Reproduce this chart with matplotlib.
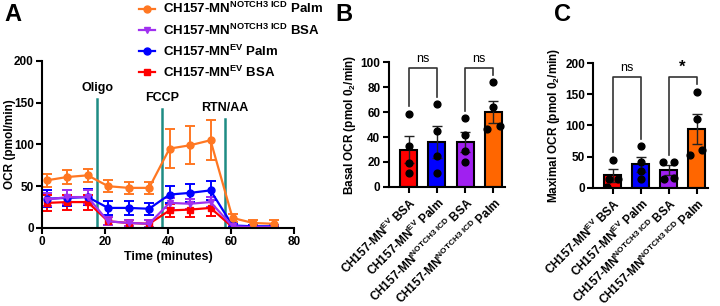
import numpy as np
import matplotlib
matplotlib.use("Agg")
import matplotlib.pyplot as plt
from matplotlib.lines import Line2D

plt.rcParams['font.family'] = ['Liberation Sans', 'DejaVu Sans']
plt.rcParams['font.weight'] = 'bold'
plt.rcParams['mathtext.fontset'] = 'custom'
plt.rcParams['mathtext.rm'] = 'Liberation Sans'
plt.rcParams['mathtext.it'] = 'Liberation Sans:bold'
plt.rcParams['mathtext.bf'] = 'Liberation Sans:bold'
plt.rcParams['axes.linewidth'] = 1.5
plt.rcParams['xtick.major.width'] = 1.5
plt.rcParams['ytick.major.width'] = 1.5

# ---- data: panel A (Seahorse trace) ----
time = [1.5, 8, 14.5, 21, 27.5, 34, 40.5, 47, 53.5, 60.5, 67, 73.5]
palm_notch = [57, 61, 63, 50, 48, 48, 95, 99, 105, 12, 6, 5]
palm_notch_err = [8, 8, 8, 7, 7, 7, 23, 23, 24, 5, 4, 4]
bsa_notch = [34, 37, 37, 8, 6, 5, 30, 29, 31, 2, 1, 1]
bsa_notch_err = [8, 8, 8, 5, 4, 4, 6, 6, 6, 2, 1, 1]
palm_ev = [35, 36, 37, 24, 24, 23, 40, 42, 45, 3, 2, 2]
palm_ev_err = [10, 10, 10, 8, 8, 7, 10, 11, 11, 2, 2, 2]
bsa_ev = [30, 31, 31, 8, 6, 5, 21, 22, 24, 1, 1, 1]
bsa_ev_err = [10, 9, 9, 5, 4, 4, 8, 9, 10, 1, 1, 1]

injections = ['Oligo', 'FCCP', 'RTN/AA']
inj_time = [17.5, 38, 58]
inj_top = [154, 142, 130]

legend_labels = [r'CH157-MN$^{\mathbf{NOTCH3\ ICD}}$ Palm', r'CH157-MN$^{\mathbf{NOTCH3\ ICD}}$ BSA',
                 r'CH157-MN$^{\mathbf{EV}}$ Palm', r'CH157-MN$^{\mathbf{EV}}$ BSA']

# ---- data: panels B and C ----
groups = [r'CH157-MN$^{\mathrm{EV}}$ BSA', r'CH157-MN$^{\mathrm{EV}}$ Palm',
          r'CH157-MN$^{\mathrm{NOTCH3\ ICD}}$ BSA', r'CH157-MN$^{\mathrm{NOTCH3\ ICD}}$ Palm']
basal_mean = [30, 36, 36, 60]
basal_sem = [10.5, 12.5, 8, 9]
basal_pts = [[58.5, 32.5, 19, 11.5], [66.5, 44.5, 24.5, 11.5], [55.5, 42, 29, 20], [84, 64, 46.5, 49]]
basal_offs = [[0, 0, 0, 0], [0, 0, 0, 0], [0, 0, 0, 0], [0, 0, -0.22, 0.22]]
maximal_mean = [20, 38, 28.5, 94]
maximal_sem = [10, 12, 8, 24]
maximal_pts = [[45, 14, 14, 2], [67, 42, 27, 15], [42, 42, 15, 16], [154, 110, 53, 60]]
maximal_offs = [[0, -0.15, 0.2, -0.22], [0, 0, 0, 0], [-0.2, 0.2, -0.18, 0.2], [0, 0, -0.22, 0.2]]

bar_colors = ['#FF0000', '#0000FF', '#A020F0', '#FF6600']

fig = plt.figure(figsize=(7.2, 3.06), dpi=100)

# ---- panel A ----
axA = fig.add_axes([0.0583, 0.255, 0.35, 0.546])
series = [
    (palm_notch, palm_notch_err, '#FF7722', 'o'),
    (bsa_notch, bsa_notch_err, '#A030F0', 'v'),
    (palm_ev, palm_ev_err, '#0000FF', 'o'),
    (bsa_ev, bsa_ev_err, '#FF0000', 's'),
]
for vals, err, col, mk in reversed(series):
    axA.errorbar(time, vals, yerr=err, color=col, marker=mk, markersize=5,
                 lw=1.6, elinewidth=1.4, capsize=3.5, capthick=1.4)
for name, t, top in zip(injections, inj_time, inj_top):
    axA.plot([t, t], [0, top], color='#1E8C84', lw=1.8, zorder=0.5)
    axA.text(t, top + 6, name, ha='center', va='bottom', fontsize=9, fontweight='bold')
axA.set_xlim(0, 80)
axA.set_ylim(0, 200)
axA.set_xticks([0, 20, 40, 60, 80])
axA.set_yticks([0, 50, 100, 150, 200])
axA.set_xlabel('Time (minutes)', fontsize=9, fontweight='bold', labelpad=2)
axA.set_ylabel('OCR (pmol/min)', fontsize=8.5, fontweight='bold')
axA.yaxis.set_label_coords(-0.105, 0.5)
axA.tick_params(labelsize=8.5, length=4, pad=2)
axA.spines[['top', 'right']].set_visible(False)
handles = [Line2D([], [], color=s[2], marker=s[3], markersize=5, lw=1.6) for s in series]
fig.legend(handles, legend_labels, loc='upper left',
           bbox_to_anchor=(0.177, 1.035), frameon=False, fontsize=9.5,
           handlelength=1.2, handletextpad=0.6, labelspacing=0.45)
fig.text(0.006, 0.99, 'A', fontsize=17, fontweight='bold', va='top')


def bar_panel(ax, means, sems, pts, offs, ylim, yticks, ylabel, brackets):
    x = np.arange(len(means))
    ax.bar(x, means, width=0.6, color=bar_colors, edgecolor='black', linewidth=1.5, zorder=1)
    ax.errorbar(x, means, yerr=sems, fmt='none', ecolor='#222222', elinewidth=1,
                capsize=3.5, capthick=1, zorder=2)
    for i, (p, o) in enumerate(zip(pts, offs)):
        ax.scatter(np.array(o) + i, p, s=24, color='black', zorder=3)
    for (i0, i1, yb, y0, y1, txt) in brackets:
        ax.plot([i0, i0, i1, i1], [y0, yb, yb, y1], color='#333333', lw=1.2, zorder=0.5)
        ax.text((i0 + i1) / 2, yb + ylim[1] * 0.02, txt, ha='center', va='bottom',
                fontsize=9 if txt == 'ns' else 12, fontweight='normal' if txt == 'ns' else 'bold')
    ax.set_xlim(-0.7, 3.4)
    ax.set_ylim(*ylim)
    ax.set_yticks(yticks)
    ax.set_xticks(x)
    ax.set_xticklabels(groups, rotation=45, ha='right', rotation_mode='anchor', fontsize=9)
    ax.set_ylabel(ylabel, fontsize=8.5, fontweight='bold', labelpad=2)
    ax.tick_params(labelsize=8.5, length=4, pad=2)
    ax.spines[['top', 'right']].set_visible(False)


axB = fig.add_axes([0.540, 0.389, 0.161, 0.408])
bar_panel(axB, basal_mean, basal_sem, basal_pts, basal_offs, (0, 100), [0, 20, 40, 60, 80, 100],
          r'Basal OCR (pmol 0$_2$/min)',
          [(0, 1, 95.5, 65, 72, 'ns'), (2, 3, 95.5, 61, 90, 'ns')])
fig.text(0.466, 0.99, 'B', fontsize=17, fontweight='bold', va='top')

axC = fig.add_axes([0.824, 0.386, 0.159, 0.408])
bar_panel(axC, maximal_mean, maximal_sem, maximal_pts, maximal_offs, (0, 200), [0, 50, 100, 150, 200],
          r'Maximal OCR (pmol 0$_2$/min)',
          [(0, 1, 178, 57, 78, 'ns'), (2, 3, 178, 52, 167, '*')])
fig.text(0.769, 0.99, 'C', fontsize=17, fontweight='bold', va='top')

fig.savefig('out.png', dpi=100)
